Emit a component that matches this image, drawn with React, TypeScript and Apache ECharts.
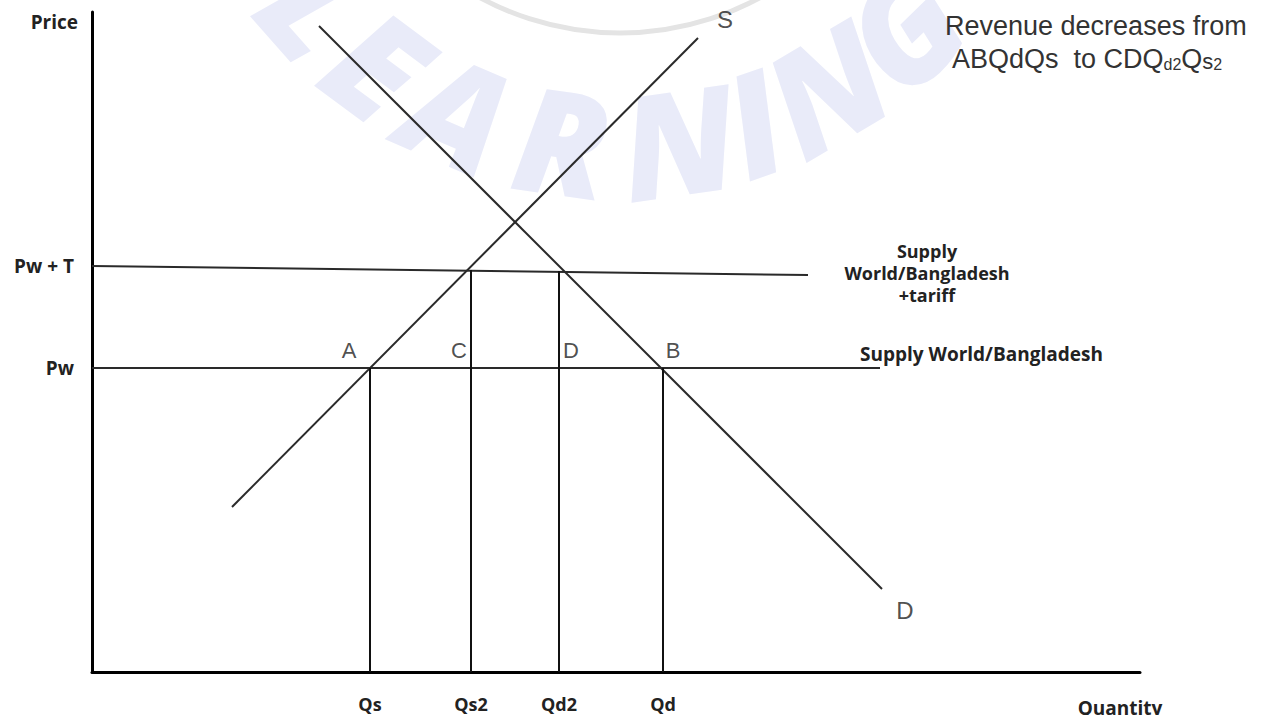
import React, { useEffect, useRef } from 'react';
import * as echarts from 'echarts';

// Quantity on x, price on y (arbitrary units of the diagram)
const supplyCurve: number[][] = [[14.0, 16.5], [60.6, 63.4]];
const demandCurve: number[][] = [[22.7, 64.6], [79.0, 8.3]];
const worldPriceLine: number[][] = [[0, 30.4], [78.8, 30.4]];
const tariffPriceLine: number[][] = [[0, 40.6], [71.6, 39.7]];

const quantityValues = [27.8, 37.9, 46.7, 57.1];
const quantityLabels = ['Qs', 'Qs2', 'Qd2', 'Qd'];
const quantityTops = [30.4, 40.2, 40.1, 30.4];

const priceValues = [30.4, 40.6];
const priceLabels = ['Pw', 'Pw + T'];

const pointLabels = ['A', 'C', 'D', 'B'];
const pointX = [25.7, 36.7, 47.9, 58.1];
const pointY = [32.2, 32.2, 32.2, 32.2];

const curveLabels = ['S', 'D'];
const curveLabelX = [63.3, 81.3];
const curveLabelY = [65.3, 6.2];

const X_MAX = 104.8;
const Y_MAX = 66;

const SEMI = '"Open Sans", "Noto Sans", sans-serif';
const ARIAL = '"Liberation Sans", Arial, sans-serif';

// decorative watermark
const wmLetters = ['L', 'E', 'A', 'R', 'N', 'I', 'N', 'G'];
const wmAngles = [48.6, 36.6, 23.3, 8.1, -8.2, -19.2, -30.5, -44.2];

function pickLabel(values: number[], labels: string[], v: number) {
  const i = values.findIndex((q) => Math.abs(q - v) < 1e-6);
  return i >= 0 ? labels[i] : '';
}

export default function App() {
  const ref = useRef<HTMLDivElement>(null);

  useEffect(() => {
    document.body.style.margin = '0';
    if (!ref.current) return;
    const chart = echarts.init(ref.current, null, { renderer: 'svg' });

    const lineStyleDark = { color: '#2a2a2a', width: 2 };

    const verticalSeries = quantityValues.map((q, i) => ({
      type: 'line',
      data: [[q, 0], [q, quantityTops[i]]],
      symbol: 'none',
      lineStyle: { color: '#111', width: 2 },
      silent: true,
      z: 3,
    }));

    const wcx = 620, wcy = -262, wr = 405;
    const watermark: any[] = wmLetters.map((ch, i) => {
      const phi = (wmAngles[i] * Math.PI) / 180;
      return {
        type: 'text',
        x: wcx - wr * Math.sin(phi),
        y: wcy + wr * Math.cos(phi),
        rotation: -phi,
        z: 0,
        silent: true,
        style: {
          text: ch,
          fontSize: 145,
          fontWeight: 900,
          fontStyle: 'italic',
          fontFamily: SEMI,
          fill: '#e9ebf9',
          align: 'center',
          verticalAlign: 'middle',
        },
      };
    });
    watermark.push({
      type: 'arc',
      z: 0,
      silent: true,
      shape: { cx: wcx, cy: wcy, r: 295, startAngle: (55 * Math.PI) / 180, endAngle: (125 * Math.PI) / 180 },
      style: { stroke: '#e4e4e4', lineWidth: 5, fill: 'none' },
    });

    const texts: any[] = [
      {
        type: 'text', x: 78, y: 22, z: 100,
        style: { text: 'Price', fontSize: 19, fontWeight: 'bold', fontFamily: SEMI, fill: '#222', align: 'right', verticalAlign: 'middle' },
      },
      {
        type: 'text', x: 1120, y: 708, z: 100,
        style: { text: 'Quantity', fontSize: 19, fontWeight: 'bold', fontFamily: SEMI, fill: '#222', align: 'center', verticalAlign: 'middle' },
      },
      {
        type: 'text', x: 927, y: 273, z: 100,
        style: {
          text: 'Supply\nWorld/Bangladesh\n+tariff', fontSize: 18, fontWeight: 'bold', fontFamily: SEMI,
          fill: '#222', align: 'center', verticalAlign: 'middle', lineHeight: 22,
        },
      },
      {
        type: 'text', x: 860, y: 354, z: 100,
        style: { text: 'Supply World/Bangladesh', fontSize: 19, fontWeight: 'bold', fontFamily: SEMI, fill: '#222', align: 'left', verticalAlign: 'middle' },
      },
      {
        type: 'text', x: 945, y: 26, z: 100,
        style: { text: 'Revenue decreases from', fontSize: 27, fontFamily: ARIAL, fill: '#333', align: 'left', verticalAlign: 'middle' },
      },
      {
        type: 'text', x: 952, y: 59, z: 100,
        style: {
          text: 'ABQdQs  to CDQ{s|d2}Q{m|s}{s|2}', fontSize: 27, fontFamily: ARIAL, fill: '#333',
          align: 'left', verticalAlign: 'middle',
          rich: {
            s: { fontSize: 16, fontFamily: ARIAL, fill: '#333', verticalAlign: 'bottom' },
            m: { fontSize: 22, fontFamily: ARIAL, fill: '#333', verticalAlign: 'bottom' },
          },
        },
      },
    ];

    chart.setOption({
      animation: false,
      backgroundColor: '#ffffff',
      grid: { left: 92, top: 12, right: 128, bottom: 43, containLabel: false },
      xAxis: {
        type: 'value',
        min: 0,
        max: X_MAX,
        axisLine: { show: true, lineStyle: { color: '#000', width: 3 } },
        axisTick: { show: false },
        splitLine: { show: false },
        axisLabel: {
          customValues: quantityValues,
          formatter: (v: number) => pickLabel(quantityValues, quantityLabels, v),
          margin: 23,
          fontSize: 18,
          fontWeight: 'bold',
          fontFamily: SEMI,
          color: '#222',
        },
      },
      yAxis: {
        type: 'value',
        min: 0,
        max: Y_MAX,
        axisLine: { show: true, lineStyle: { color: '#000', width: 3 } },
        axisTick: { show: false },
        splitLine: { show: false },
        axisLabel: {
          customValues: priceValues,
          formatter: (v: number) => pickLabel(priceValues, priceLabels, v),
          margin: 18,
          fontSize: 19,
          fontWeight: 'bold',
          fontFamily: SEMI,
          color: '#222',
        },
      },
      graphic: [...watermark, ...texts],
      series: [
        { type: 'line', name: 'S', data: supplyCurve, symbol: 'none', lineStyle: lineStyleDark, silent: true, z: 3 },
        { type: 'line', name: 'D', data: demandCurve, symbol: 'none', lineStyle: lineStyleDark, silent: true, z: 3 },
        { type: 'line', name: 'Pw', data: worldPriceLine, symbol: 'none', lineStyle: lineStyleDark, silent: true, z: 3 },
        { type: 'line', name: 'Pw + T', data: tariffPriceLine, symbol: 'none', lineStyle: lineStyleDark, silent: true, z: 3 },
        ...verticalSeries,
        {
          type: 'scatter',
          data: pointLabels.map((n, i) => ({ name: n, value: [pointX[i], pointY[i]] })),
          symbolSize: 1,
          itemStyle: { color: 'rgba(0,0,0,0)' },
          silent: true,
          z: 5,
          label: {
            show: true,
            position: 'inside',
            formatter: (p: any) => p.name,
            fontSize: 22,
            fontFamily: ARIAL,
            color: '#222',
          },
        },
        {
          type: 'scatter',
          data: curveLabels.map((n, i) => ({ name: n, value: [curveLabelX[i], curveLabelY[i]] })),
          symbolSize: 1,
          itemStyle: { color: 'rgba(0,0,0,0)' },
          silent: true,
          z: 5,
          label: {
            show: true,
            position: 'inside',
            formatter: (p: any) => p.name,
            fontSize: 24,
            fontFamily: ARIAL,
            color: '#222',
          },
        },
      ],
    });

    return () => {
      chart.dispose();
    };
  }, []);

  return <div ref={ref} style={{ width: 1268, height: 715 }} />;
}
